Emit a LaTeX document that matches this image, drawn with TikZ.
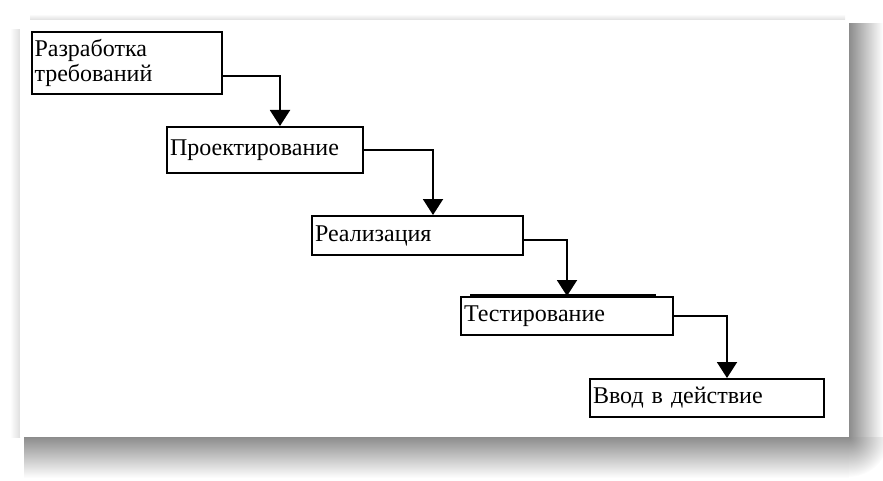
\documentclass[tikz,border=0pt]{standalone}
\usepackage{fontspec}
\setmainfont{Liberation Serif}
\usetikzlibrary{arrows.meta}
\tikzset{
  stage/.style={draw, line width=1pt, inner xsep=1.5pt, inner ysep=0pt,
    font=\fontsize{12}{12.5}\selectfont, align=left},
  flow/.style={line width=1pt, -{Triangle[width=10pt,length=8pt]}}
}
\begin{document}
\begin{tikzpicture}[x=0.5pt,y=-0.5pt]
    \useasboundingbox (0,0) rectangle (883,481);
    % page with its shadow
    \shade[left color=white, right color=gray!25] (10,30) rectangle (20,437);
    \shade[top color=white, bottom color=gray!25] (30,14) rectangle (845,20);
    \shade[left color=gray!90, right color=white] (849,24) rectangle (883,437);
    \shade[top color=gray!90, bottom color=white] (24,437) rectangle (849,478);
    \begin{scope}
      \clip (849,437) rectangle (883,478);
      \shade[inner color=gray!90, outer color=white] (849,437) circle (40);
    \end{scope}
    \fill[white] (20,20) rectangle (849,437);
    % stages
    \node[stage, text width=92pt, minimum height=31pt] (req) at (126.5,63)
      {Разработка\\требований};
    \node[stage, text width=95pt, minimum height=23pt] (design) at (265,150)
      {Проектирование};
    \node[stage, text width=102.5pt, minimum height=19.5pt] (impl) at (417.5,235.5)
      {Реализация};
    \node[stage, text width=103pt, minimum height=19pt] (test) at (567,316)
      {Тестирование};
    \node[stage, text width=114pt, minimum height=19pt] (deploy) at (707,398)
      {Ввод в действие};
    \draw[line width=1pt] ([xshift=5pt,yshift=0.6pt]test.north west)
      -- ([xshift=-9pt,yshift=0.6pt]test.north east);
    % transitions
    \draw[flow] ([yshift=-6.5pt]req.east) -| ([xshift=7.5pt]design.north);
    \draw[flow] (design.east) -| ([xshift=7.75pt]impl.north);
    \draw[flow] ([yshift=-2.25pt]impl.east) -| (test.north);
    \draw[flow] (test.east) -| ([xshift=10pt]deploy.north);
\end{tikzpicture}
\end{document}
